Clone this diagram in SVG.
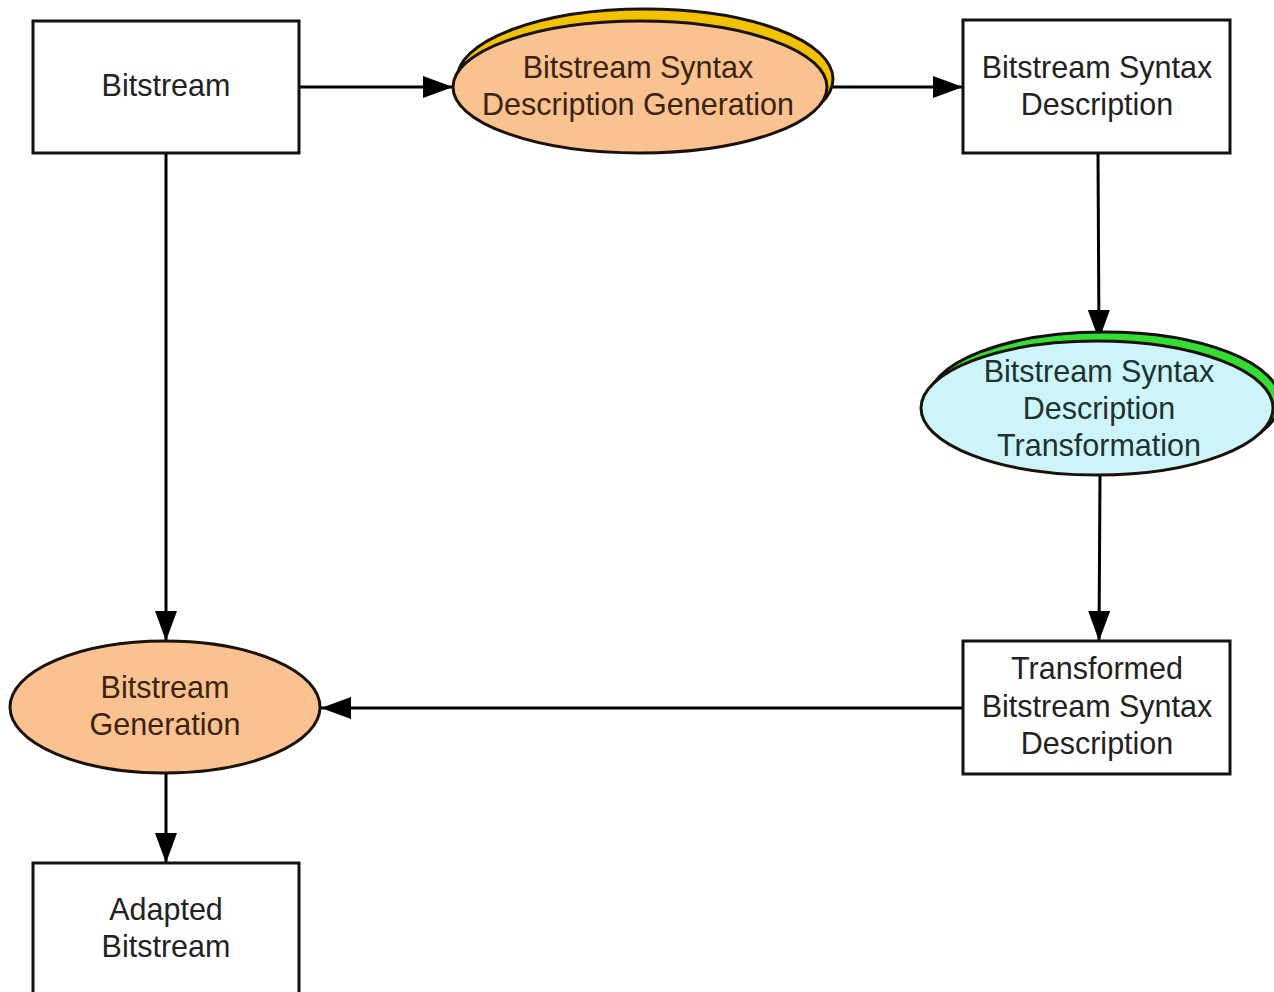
<svg xmlns="http://www.w3.org/2000/svg" width="1274" height="992" viewBox="0 0 1274 992">
  <style>
    .box { fill: #ffffff; stroke: #111111; stroke-width: 3; }
    .proc { stroke: #1a1208; stroke-width: 3; }
    .orange { fill: #f9c290; }
    .cyan { fill: #cdf4f8; }
    .shadow-yellow { fill: #f2c200; stroke: #1a1208; stroke-width: 3; }
    .shadow-green { fill: #33dd33; stroke: #111111; stroke-width: 3; }
    .label { font-family: "Liberation Sans", Arial, sans-serif; font-size: 30.5px; text-anchor: middle; fill: #222222; }
    .label-warm { fill: #3a2410; }
    .label-cool { fill: #1e3232; }
    .edge { fill: none; stroke: #000000; stroke-width: 3; }
  </style>
  <defs>
    <marker id="arrow" viewBox="0 0 30 22" refX="30" refY="11" markerWidth="30" markerHeight="22" markerUnits="userSpaceOnUse" orient="auto">
      <path d="M0,0 L30,11 L0,22 Z" fill="#000000"/>
    </marker>
  </defs>

  <rect width="1274" height="992" fill="#ffffff"/>

  <!-- connectors -->
  <g id="connectors">
    <line class="edge" x1="299" y1="87" x2="453" y2="87" marker-end="url(#arrow)"/>
    <line class="edge" x1="828" y1="87" x2="963" y2="87" marker-end="url(#arrow)"/>
    <line class="edge" x1="1098" y1="153" x2="1099" y2="340" marker-end="url(#arrow)"/>
    <line class="edge" x1="1100" y1="475" x2="1099" y2="641" marker-end="url(#arrow)"/>
    <line class="edge" x1="963" y1="708" x2="321" y2="708" marker-end="url(#arrow)"/>
    <line class="edge" x1="166" y1="153" x2="166" y2="641" marker-end="url(#arrow)"/>
    <line class="edge" x1="166" y1="773" x2="166" y2="863" marker-end="url(#arrow)"/>
  </g>

  <!-- Bitstream -->
  <g id="node-bitstream">
    <rect class="box" x="33" y="21" width="266" height="132"/>
    <text class="label" x="166" y="96">Bitstream</text>
  </g>

  <!-- Bitstream Syntax Description Generation -->
  <g id="node-bsd-generation">
    <ellipse class="shadow-yellow" cx="645" cy="79" rx="188" ry="70"/>
    <ellipse class="proc orange" cx="640" cy="87" rx="187" ry="66"/>
    <text class="label label-warm" x="638" y="78">Bitstream Syntax</text>
    <text class="label label-warm" x="638" y="115">Description Generation</text>
  </g>

  <!-- Bitstream Syntax Description -->
  <g id="node-bsd">
    <rect class="box" x="963" y="20" width="267" height="133"/>
    <text class="label" x="1097" y="78">Bitstream Syntax</text>
    <text class="label" x="1097" y="115">Description</text>
  </g>

  <!-- Bitstream Syntax Description Transformation -->
  <g id="node-bsd-transformation">
    <ellipse class="shadow-green" cx="1104" cy="401" rx="176" ry="69"/>
    <ellipse class="proc cyan" cx="1097" cy="408" rx="176" ry="67"/>
    <text class="label label-cool" x="1099" y="382">Bitstream Syntax</text>
    <text class="label label-cool" x="1099" y="419">Description</text>
    <text class="label label-cool" x="1099" y="456">Transformation</text>
  </g>

  <!-- Transformed Bitstream Syntax Description -->
  <g id="node-transformed-bsd">
    <rect class="box" x="963" y="641" width="267" height="133"/>
    <text class="label" x="1097" y="679">Transformed</text>
    <text class="label" x="1097" y="717">Bitstream Syntax</text>
    <text class="label" x="1097" y="754">Description</text>
  </g>

  <!-- Bitstream Generation -->
  <g id="node-bitstream-generation">
    <ellipse class="proc orange" cx="165" cy="707" rx="155" ry="66"/>
    <text class="label label-warm" x="165" y="698">Bitstream</text>
    <text class="label label-warm" x="165" y="735">Generation</text>
  </g>

  <!-- Adapted Bitstream -->
  <g id="node-adapted-bitstream">
    <rect class="box" x="33" y="863" width="266" height="140"/>
    <text class="label" x="166" y="920">Adapted</text>
    <text class="label" x="166" y="957">Bitstream</text>
  </g>
</svg>
